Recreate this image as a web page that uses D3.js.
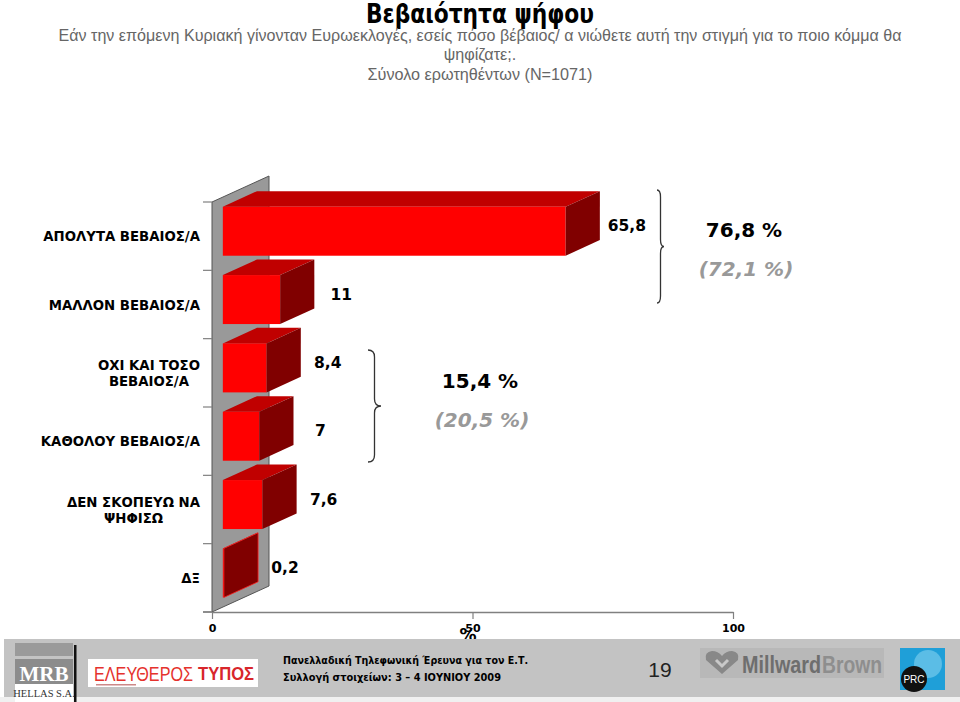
<!DOCTYPE html>
<html><head><meta charset="utf-8">
<script src="https://cdn.jsdelivr.net/npm/d3@7"></script>
<style>body{margin:0;background:#fff}svg{display:block}</style>
</head><body><svg id="c" width="960" height="702"></svg>
<script>
// ---------- data ----------
const categories = ["ΑΠΟΛΥΤΑ ΒΕΒΑΙΟΣ/Α", "ΜΑΛΛΟΝ ΒΕΒΑΙΟΣ/Α", "ΟΧΙ ΚΑΙ ΤΟΣΟ\nΒΕΒΑΙΟΣ/Α", "ΚΑΘΟΛΟΥ ΒΕΒΑΙΟΣ/Α", "ΔΕΝ ΣΚΟΠΕΥΩ ΝΑ\nΨΗΦΙΣΩ", "ΔΞ"];
const values = [65.8, 11, 8.4, 7, 7.6, 0.2];
const valueLabels = ["65,8", "11", "8,4", "7", "7,6", "0,2"];
const xTicks = [0, 50, 100];
const groupTotals = ["76,8 %", "15,4 %"];
const groupPrevious = ["(72,1 %)", "(20,5 %)"];
const title = "Βεβαιότητα ψήφου";
const subtitleLines = ["Εάν την επόμενη Κυριακή γίνονταν  Ευρωεκλογές, εσείς πόσο βέβαιος/ α νιώθετε αυτή την στιγμή για το ποιο κόμμα θα", "ψηφίζατε;.", "Σύνολο ερωτηθέντων (N=1071)"];
const footerLines = ["Πανελλαδική  Τηλεφωνική Έρευνα για τον Ε.Τ.", "Συλλογή στοιχείων: 3 – 4 ΙΟΥΝΙΟΥ 2009"];
const pageNumber = "19";

// ---------- layout ----------
const svg = d3.select("#c");
const W = 960;
const x = d3.scaleLinear().domain([0, 100]).range([212, 733]);
const y = d3.scaleBand().domain(categories).range([202, 612]).paddingInner(0.283).paddingOuter(0.1415);
const depth = {dx: 57, dy: -26};
const f0 = 0.19, f1 = 0.79;
const off = f => ({dx: depth.dx * f, dy: depth.dy * f});
const F = off(f0), B = off(f1);
const bold = "'DejaVu Sans', Verdana, sans-serif";

// title
svg.append("text").attr("x", W / 2).attr("y", 23).attr("text-anchor", "middle")
  .attr("font-family", "'Liberation Sans Narrow','DejaVu Sans Condensed','Liberation Sans',sans-serif")
  .attr("font-weight", "bold").attr("font-size", 26).attr("textLength", 228).attr("lengthAdjust", "spacingAndGlyphs")
  .text(title);
const subY = [41, 60, 80];
subtitleLines.forEach((t, i) => {
  const el = svg.append("text").attr("x", W / 2).attr("y", subY[i]).attr("text-anchor", "middle")
    .attr("font-family", "'Liberation Sans',Arial,sans-serif").attr("font-size", 16.2).attr("fill", "#666")
    .text(t);
  if (i === 0) el.attr("textLength", 843).attr("lengthAdjust", "spacingAndGlyphs");
});

// wall
const x0 = x(0), yTop = y.range()[0], yBot = y.range()[1];
svg.append("path")
  .attr("d", `M${x0},${yTop} L${x0 + depth.dx},${yTop + depth.dy} L${x0 + depth.dx},${yBot + depth.dy} L${x0},${yBot} Z`)
  .attr("fill", "#999").attr("stroke", "#555").attr("stroke-width", 1);

// category ticks on the wall's left edge
const step = y.step();
d3.range(categories.length + 1).forEach(i => {
  svg.append("line").attr("x1", x0 - 9).attr("x2", x0).attr("y1", yTop + i * step).attr("y2", yTop + i * step)
    .attr("stroke", "#808080").attr("stroke-width", 1.2);
});

// x axis
const axisG = svg.append("g").attr("transform", `translate(0,${yBot})`)
  .call(d3.axisBottom(x).tickValues(xTicks).tickSize(7).tickSizeOuter(0).tickFormat(d3.format("d")));
axisG.select(".domain").attr("stroke", "#808080").attr("stroke-width", 1.5);
axisG.selectAll(".tick line").attr("stroke", "#808080").attr("stroke-width", 1.2);
axisG.selectAll(".tick text").attr("font-family", bold).attr("font-weight", "bold").attr("font-size", 11).attr("fill", "#000").attr("dy", "0.9em");
svg.append("line").attr("x1", x0 - 9).attr("x2", x0).attr("y1", yBot).attr("y2", yBot).attr("stroke", "#808080").attr("stroke-width", 1.5);
svg.append("text").attr("x", 468).attr("y", 641).attr("text-anchor", "middle")
  .attr("font-family", bold).attr("font-weight", "bold").attr("font-size", 17).text("%");

// bars
const bh = y.bandwidth();
const bars = svg.append("g").selectAll("g").data(values.map((v, i) => ({v, c: categories[i], l: valueLabels[i]}))).join("g");
bars.each(function(d) {
  const g = d3.select(this);
  const xa = x(0) + F.dx, xb = x(d.v) + F.dx;
  const yt = y(d.c) + F.dy, yb = yt + bh;
  const ddx = B.dx - F.dx, ddy = B.dy - F.dy;
  // top
  g.append("path").attr("d", `M${xa},${yt} L${xa + ddx},${yt + ddy} L${xb + ddx},${yt + ddy} L${xb},${yt} Z`).attr("fill", "#C00000");
  // front
  g.append("rect").attr("x", xa).attr("y", yt).attr("width", Math.max(xb - xa, 0.8)).attr("height", bh).attr("fill", "#FF0000");
  // side
  g.append("path").attr("d", `M${xb},${yt} L${xb + ddx},${yt + ddy} L${xb + ddx},${yb + ddy} L${xb},${yb} Z`)
    .attr("fill", "#800000").attr("stroke", d.v < 1 ? "#ff2020" : "none").attr("stroke-width", 0.8);
  // value label
  g.append("text").attr("x", x(d.v) + B.dx + 27).attr("y", y(d.c) + bh / 2 - 5).attr("text-anchor", "middle")
    .attr("font-family", bold).attr("font-weight", "bold").attr("font-size", 15.5).text(d.l);
});

// category labels
const catSize = 13.3;
categories.forEach(c => {
  const lines = c.split("\n");
  const cy = y(c) + bh / 2;
  const lh = 16;
  const t = svg.append("text").attr("font-family", bold).attr("font-weight", "bold").attr("font-size", catSize).attr("fill", "#000");
  if (lines.length === 1) {
    t.attr("x", 200).attr("y", cy + 5).attr("text-anchor", "end").text(c);
  } else {
    const tmp = svg.append("text").attr("font-family", bold).attr("font-weight", "bold").attr("font-size", catSize);
    const wmax = d3.max(lines, l => { tmp.text(l); return tmp.node().getComputedTextLength(); });
    tmp.remove();
    const cx = 200 - wmax / 2;
    lines.forEach((l, k) => {
      t.append("tspan").attr("x", cx).attr("y", cy + 5 + (k - (lines.length - 1) / 2) * lh).attr("text-anchor", "middle").text(l);
    });
  }
});

// braces and group totals
function brace(xl, y0, y1, w) {
  const xm = xl + w * 0.5, ym = (y0 + y1) / 2, r = 7;
  return `M${xl},${y0} Q${xm},${y0} ${xm},${y0 + r} L${xm},${ym - r} Q${xm},${ym} ${xl + w},${ym} Q${xm},${ym} ${xm},${ym + r} L${xm},${y1 - r} Q${xm},${y1} ${xl},${y1}`;
}
const braceLayout = [{x: 657, y0: 190, y1: 303, w: 7, tx: 744, ty: 237, py: 276}, {x: 368, y0: 350, y1: 462, w: 13, tx: 480, ty: 388, py: 427}];
braceLayout.forEach((b, i) => {
  svg.append("path").attr("d", brace(b.x, b.y0, b.y1, b.w)).attr("fill", "none").attr("stroke", "#333").attr("stroke-width", 1.3);
  svg.append("text").attr("x", b.tx).attr("y", b.ty).attr("text-anchor", "middle").attr("font-family", bold)
    .attr("font-weight", "bold").attr("font-size", 20).attr("fill", "#000").text(groupTotals[i]);
  svg.append("text").attr("x", b.tx + 2).attr("y", b.py).attr("text-anchor", "middle").attr("font-family", bold)
    .attr("font-weight", "bold").attr("font-style", "italic").attr("font-size", 20).attr("fill", "#999").text(groupPrevious[i]);
});

// ---------- footer ----------
const ft = svg.append("g");
ft.append("rect").attr("x", 0).attr("y", 697).attr("width", W).attr("height", 5).attr("fill", "#f0f0f0");
ft.append("rect").attr("x", 4).attr("y", 639).attr("width", W - 4).attr("height", 58).attr("fill", "#C3C3C3");
// MRB logo
ft.append("rect").attr("x", 74).attr("y", 645).attr("width", 2.5).attr("height", 57).attr("fill", "#111");
ft.append("rect").attr("x", 15).attr("y", 643).attr("width", 58).attr("height", 13).attr("fill", "#9a9a9a");
ft.append("rect").attr("x", 15).attr("y", 659).attr("width", 58).attr("height", 25).attr("fill", "#8c8c8c");
ft.append("rect").attr("x", 15).attr("y", 684).attr("width", 58).attr("height", 18).attr("fill", "#fff");
ft.append("text").attr("x", 44).attr("y", 681).attr("text-anchor", "middle").attr("font-family", "'Liberation Serif','DejaVu Serif',serif")
  .attr("font-weight", "bold").attr("font-size", 21).attr("fill", "#fff").text("MRB");
ft.append("text").attr("x", 44).attr("y", 697).attr("text-anchor", "middle").attr("font-family", "'Liberation Serif','DejaVu Serif',serif")
  .attr("font-size", 10.5).attr("fill", "#333").text("HELLAS S.A.");
// Eleftheros Typos logo
ft.append("rect").attr("x", 88).attr("y", 659).attr("width", 170).attr("height", 28).attr("fill", "#fff");
ft.append("text").attr("x", 94).attr("y", 681).attr("font-family", "'Liberation Sans',Arial,sans-serif").attr("font-size", 20)
  .attr("fill", "#e5322d").attr("textLength", 99).attr("lengthAdjust", "spacingAndGlyphs").text("ΕΛΕΥΘΕΡΟΣ");
ft.append("text").attr("x", 198).attr("y", 680).attr("font-family", "'Liberation Sans',Arial,sans-serif").attr("font-size", 19)
  .attr("font-weight", "bold").attr("fill", "#d8262b").attr("textLength", 56).attr("lengthAdjust", "spacingAndGlyphs").text("ΤΥΠΟΣ");
ft.append("rect").attr("x", 96).attr("y", 684).attr("width", 40).attr("height", 1.5).attr("fill", "#c88");
// survey text
footerLines.forEach((t, i) => {
  ft.append("text").attr("x", 283).attr("y", 664 + i * 17).attr("font-family", bold).attr("font-weight", "bold")
    .attr("font-size", 11).attr("fill", "#000").attr("textLength", i === 0 ? 245 : 218).attr("lengthAdjust", "spacingAndGlyphs").text(t);
});
ft.append("text").attr("x", 660).attr("y", 677).attr("text-anchor", "middle").attr("font-family", "'Liberation Sans',Arial,sans-serif")
  .attr("font-size", 21).attr("fill", "#222").text(pageNumber);
// Millward Brown logo
ft.append("rect").attr("x", 700).attr("y", 648).attr("width", 184).attr("height", 30).attr("fill", "#b8b8b8");
ft.append("path").attr("d", "M722,674 L706,660 Q704,652 712,651 Q718,651 722,656 Q726,651 732,651 Q740,652 738,660 Z").attr("fill", "#888");
ft.append("path").attr("d", "M716,660 L722,666 L728,660").attr("fill", "none").attr("stroke", "#c8c8c8").attr("stroke-width", 3);
ft.append("text").attr("x", 742).attr("y", 673).attr("font-family", "'Liberation Sans',Arial,sans-serif").attr("font-weight", "bold")
  .attr("font-size", 24).attr("fill", "#6e6e6e").attr("textLength", 79).attr("lengthAdjust", "spacingAndGlyphs").text("Millward");
ft.append("text").attr("x", 822).attr("y", 673).attr("font-family", "'Liberation Sans',Arial,sans-serif").attr("font-weight", "bold")
  .attr("font-size", 24).attr("fill", "#8e8e8e").attr("textLength", 60).attr("lengthAdjust", "spacingAndGlyphs").text("Brown");
// PRC logo
ft.append("rect").attr("x", 900).attr("y", 648).attr("width", 45).attr("height", 42).attr("fill", "#1f9fd8");
ft.append("circle").attr("cx", 928).attr("cy", 664).attr("r", 14).attr("fill", "#5bbde6");
ft.append("circle").attr("cx", 914).attr("cy", 679).attr("r", 13).attr("fill", "#111");
ft.append("text").attr("x", 914).attr("y", 683).attr("text-anchor", "middle").attr("font-family", "'Liberation Sans',Arial,sans-serif")
  .attr("font-size", 10).attr("fill", "#fff").text("PRC");
</script></body></html>
